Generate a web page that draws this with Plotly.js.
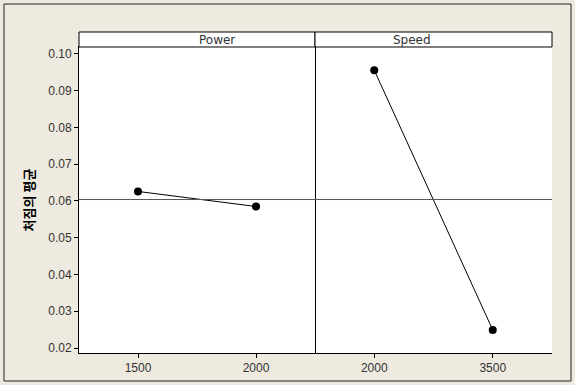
<!DOCTYPE html>
<html>
<head>
<meta charset="utf-8">
<script src="https://cdn.plot.ly/plotly-3.0.1.min.js"></script>
<style>html,body{margin:0;padding:0;background:#fff;}#chart{width:575px;height:385px;}</style>
</head>
<body>
<div id="chart"></div>
<script>
// Data (Minitab main effects plot)
const powerLevels = ["1500", "2000"];
const powerMeans = [0.0626, 0.0585];
const speedLevels = ["2000", "3500"];
const speedMeans = [0.0956, 0.0249];
const grandMean = 0.0604;
const panelNames = ["Power", "Speed"];
const yTitle = "처짐의 평균";
const yTicks = [0.02, 0.03, 0.04, 0.05, 0.06, 0.07, 0.08, 0.09, 0.10];

const tickFont = {family: "Liberation Sans, Arial, sans-serif", size: 12, color: "#333"};
const stripFont = {family: "DejaVu Sans, sans-serif", size: 12, color: "#333"};
const marker = {color: "#000", size: 8, symbol: "circle"};
const line = {color: "#000", width: 1};

const traces = [
  {x: [0, 1], y: powerMeans, xaxis: "x", yaxis: "y", mode: "lines+markers", marker, line, hoverinfo: "skip"},
  {x: [0, 1], y: speedMeans, xaxis: "x2", yaxis: "y", mode: "lines+markers", marker, line, hoverinfo: "skip"}
];

const split = (315 - 79) / 473;
const ytop = 306 / 321;

const xCommon = {
  range: [-0.5, 1.5], tickmode: "array", tickvals: [0, 1],
  ticks: "outside", ticklen: 4, tickcolor: "#000", tickwidth: 1,
  showline: true, linecolor: "#000", linewidth: 1, mirror: true,
  showgrid: false, zeroline: false, tickfont: tickFont, anchor: "y", fixedrange: true
};

const layout = {
  width: 575, height: 385,
  paper_bgcolor: "#EEEAE0", plot_bgcolor: "#FFFFFF",
  margin: {l: 79, r: 23, t: 32, b: 32},
  showlegend: false,
  xaxis: Object.assign({}, xCommon, {domain: [0, split], ticktext: powerLevels}),
  xaxis2: Object.assign({}, xCommon, {domain: [split, 1], ticktext: speedLevels}),
  yaxis: {
    domain: [0, ytop], range: [0.01864, 0.1019],
    tickmode: "array", tickvals: yTicks, ticktext: yTicks.map(v => v.toFixed(2)),
    ticks: "outside", ticklen: 4, tickcolor: "#000",
    showline: true, linecolor: "#000", linewidth: 1, mirror: true,
    showgrid: false, zeroline: false, tickfont: tickFont,
    title: {text: yTitle, font: {family: "Noto Sans CJK KR, sans-serif", size: 13, color: "#000", weight: "bold"}, standoff: 10}
  },
  shapes: [
    // grand mean reference lines
    {type: "line", xref: "x domain", yref: "y", x0: 0, x1: 1, y0: grandMean, y1: grandMean, line: {color: "#555", width: 1}},
    {type: "line", xref: "x2 domain", yref: "y", x0: 0, x1: 1, y0: grandMean, y1: grandMean, line: {color: "#555", width: 1}},
    // strip headers
    {type: "rect", xref: "paper", yref: "paper", x0: 0, x1: split, y0: ytop, y1: 1, fillcolor: "#fff", line: {color: "#000", width: 1}},
    {type: "rect", xref: "paper", yref: "paper", x0: split, x1: 1, y0: ytop, y1: 1, fillcolor: "#fff", line: {color: "#000", width: 1}},
    // outer frame
    {type: "rect", xref: "paper", yref: "paper", x0: -75/473, x1: 1 + 19/473, y0: -28/321, y1: 1 + 28/321, line: {color: "#222", width: 1}, layer: "below"}
  ],
  annotations: [
    {text: panelNames[0], xref: "paper", yref: "paper", x: split / 2, y: (ytop + 1) / 2, showarrow: false, font: stripFont, yanchor: "middle"},
    {text: panelNames[1], xref: "paper", yref: "paper", x: (split + 1) / 2, y: (ytop + 1) / 2, showarrow: false, font: stripFont, yanchor: "middle"}
  ]
};

Plotly.newPlot("chart", traces, layout, {staticPlot: true, displayModeBar: false});
</script>
</body>
</html>
